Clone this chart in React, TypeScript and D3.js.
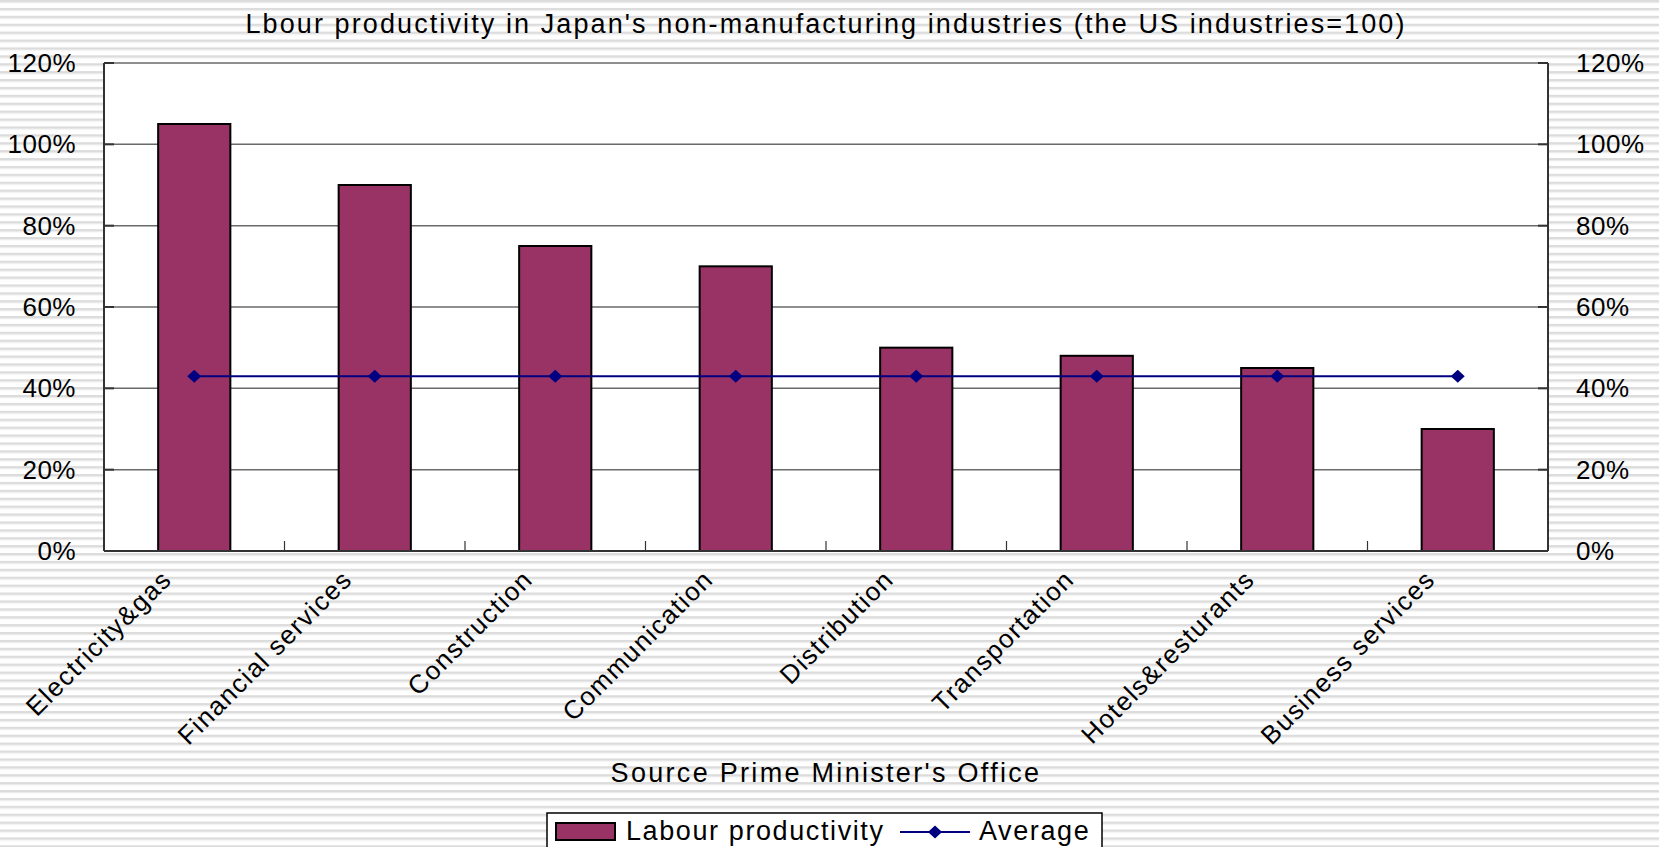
import { useRef, useEffect } from "react";
import * as d3 from "d3";

const categories = [
  "Electricity&gas",
  "Financial services",
  "Construction",
  "Communication",
  "Distribution",
  "Transportation",
  "Hotels&resturants",
  "Business services",
];
const productivity = [1.05, 0.9, 0.75, 0.7, 0.5, 0.48, 0.45, 0.3];
const average = [0.43, 0.43, 0.43, 0.43, 0.43, 0.43, 0.43, 0.43];
const yTicks = [0, 0.2, 0.4, 0.6, 0.8, 1.0, 1.2];

const W = 1659;
const H = 847;
const FONT = "'Liberation Sans', Arial, sans-serif";
const BAR = "#993366";
const NAVY = "#000080";

export default function App() {
  const svgRef = useRef<SVGSVGElement>(null);

  useEffect(() => {
    if (!svgRef.current) return;
    const svg = d3.select(svgRef.current);
    svg.selectAll("*").remove();

    const plot = { left: 104, right: 1548, top: 63, bottom: 551 };

    // striped slide background
    const defs = svg.append("defs");
    const pat = defs
      .append("pattern")
      .attr("id", "stripes")
      .attr("patternUnits", "userSpaceOnUse")
      .attr("width", 8)
      .attr("height", 7.9);
    pat.append("rect").attr("width", 8).attr("height", 7.9).attr("fill", "#ffffff");
    pat.append("rect").attr("y", 0).attr("width", 8).attr("height", 2).attr("fill", "#dcdcdc");
    pat.append("rect").attr("y", 2).attr("width", 8).attr("height", 1.2).attr("fill", "#ececec");
    svg.append("rect").attr("width", W).attr("height", H).attr("fill", "url(#stripes)");

    const x = d3
      .scaleBand<string>()
      .domain(categories)
      .range([plot.left, plot.right])
      .paddingInner(0.6)
      .paddingOuter(0.3);
    const step = x.step();
    const y = d3.scaleLinear().domain([0, 1.2]).range([plot.bottom, plot.top]);

    // plot area
    svg
      .append("rect")
      .attr("x", plot.left)
      .attr("y", plot.top)
      .attr("width", plot.right - plot.left)
      .attr("height", plot.bottom - plot.top)
      .attr("fill", "#ffffff");

    // gridlines
    svg
      .append("g")
      .selectAll("line")
      .data(yTicks.filter((d) => d > 0))
      .join("line")
      .attr("x1", plot.left)
      .attr("x2", plot.right)
      .attr("y1", (d) => y(d))
      .attr("y2", (d) => y(d))
      .attr("stroke", "#6a6a6a")
      .attr("stroke-width", 1.5);

    // tick marks (inside)
    const ticks = svg.append("g").attr("stroke", "#333").attr("stroke-width", 2);
    yTicks.forEach((t) => {
      ticks.append("line").attr("x1", plot.left).attr("x2", plot.left + 10).attr("y1", y(t)).attr("y2", y(t));
      ticks.append("line").attr("x1", plot.right - 10).attr("x2", plot.right).attr("y1", y(t)).attr("y2", y(t));
    });
    d3.range(1, categories.length).forEach((i) => {
      const tx = plot.left + i * step;
      ticks
        .append("line")
        .attr("x1", tx)
        .attr("x2", tx)
        .attr("y1", plot.bottom)
        .attr("y2", plot.bottom - 10)
        .attr("stroke-width", 1.2);
    });

    // bars
    svg
      .append("g")
      .selectAll("rect")
      .data(productivity)
      .join("rect")
      .attr("x", (d, i) => x(categories[i])!)
      .attr("y", (d) => y(d))
      .attr("width", x.bandwidth())
      .attr("height", (d) => y(0) - y(d))
      .attr("fill", BAR)
      .attr("stroke", "#000")
      .attr("stroke-width", 2);

    // axes lines
    const ax = svg.append("g").attr("stroke", "#333").attr("stroke-width", 2);
    ax.append("line").attr("x1", plot.left).attr("x2", plot.left).attr("y1", plot.top).attr("y2", plot.bottom);
    ax.append("line").attr("x1", plot.right).attr("x2", plot.right).attr("y1", plot.top).attr("y2", plot.bottom);
    ax.append("line").attr("x1", plot.left).attr("x2", plot.right).attr("y1", plot.bottom).attr("y2", plot.bottom);

    // average line
    const cx = (i: number) => x(categories[i])! + x.bandwidth() / 2;
    const line = d3
      .line<number>()
      .x((d, i) => cx(i))
      .y((d) => y(d));
    svg
      .append("path")
      .attr("d", line(average))
      .attr("fill", "none")
      .attr("stroke", NAVY)
      .attr("stroke-width", 2);
    const diamond = "M0,-6.5L7,0L0,6.5L-7,0Z";
    svg
      .append("g")
      .selectAll("path")
      .data(average)
      .join("path")
      .attr("d", diamond)
      .attr("transform", (d, i) => `translate(${cx(i)},${y(d)})`)
      .attr("fill", NAVY);

    // y labels
    const fmt = (d: number) => Math.round(d * 100) + "%";
    const yl = svg
      .append("g")
      .style("font-family", FONT)
      .style("font-size", "26px")
      .style("letter-spacing", "0.5px")
      .attr("fill", "#000");
    yTicks.forEach((t) => {
      yl.append("text")
        .attr("x", 76)
        .attr("y", y(t) + 9)
        .attr("text-anchor", "end")
        .text(fmt(t));
      yl.append("text")
        .attr("x", 1576)
        .attr("y", y(t) + 9)
        .attr("text-anchor", "start")
        .text(fmt(t));
    });

    // category labels
    const xl = svg
      .append("g")
      .style("font-family", FONT)
      .style("font-size", "26px")
      .style("letter-spacing", "1.5px")
      .attr("fill", "#000");
    categories.forEach((c, i) => {
      xl.append("text")
        .attr("transform", `translate(${cx(i) - 21},${581}) rotate(-45)`)
        .attr("text-anchor", "end")
        .text(c);
    });

    // title & source
    svg
      .append("text")
      .attr("x", (plot.left + plot.right) / 2)
      .attr("y", 33)
      .attr("text-anchor", "middle")
      .style("font-family", FONT)
      .style("font-size", "27px")
      .style("letter-spacing", "2.1px")
      .text("Lbour productivity in Japan's non-manufacturing industries (the US industries=100)");
    svg
      .append("text")
      .attr("x", (plot.left + plot.right) / 2)
      .attr("y", 782)
      .attr("text-anchor", "middle")
      .style("font-family", FONT)
      .style("font-size", "27px")
      .style("letter-spacing", "2.3px")
      .text("Source Prime Minister's Office");

    // legend
    const leg = svg.append("g");
    leg
      .append("rect")
      .attr("x", 547)
      .attr("y", 813)
      .attr("width", 555)
      .attr("height", 50)
      .attr("fill", "#fff")
      .attr("stroke", "#000")
      .attr("stroke-width", 1.5);
    leg
      .append("rect")
      .attr("x", 556)
      .attr("y", 823)
      .attr("width", 59)
      .attr("height", 17)
      .attr("fill", BAR)
      .attr("stroke", "#000")
      .attr("stroke-width", 2);
    const legText = (tx: number, s: string) =>
      leg
        .append("text")
        .attr("x", tx)
        .attr("y", 840)
        .style("font-family", FONT)
        .style("font-size", "27px")
        .style("letter-spacing", "1.6px")
        .text(s);
    legText(626, "Labour productivity");
    leg
      .append("line")
      .attr("x1", 900)
      .attr("x2", 970)
      .attr("y1", 832)
      .attr("y2", 832)
      .attr("stroke", NAVY)
      .attr("stroke-width", 2);
    leg
      .append("path")
      .attr("d", diamond)
      .attr("transform", "translate(935,832)")
      .attr("fill", NAVY);
    legText(979, "Average");

    return () => {
      svg.selectAll("*").remove();
    };
  }, []);

  return (
    <svg
      ref={svgRef}
      width={W}
      height={H}
      style={{ position: "absolute", top: 0, left: 0, display: "block" }}
    />
  );
}
